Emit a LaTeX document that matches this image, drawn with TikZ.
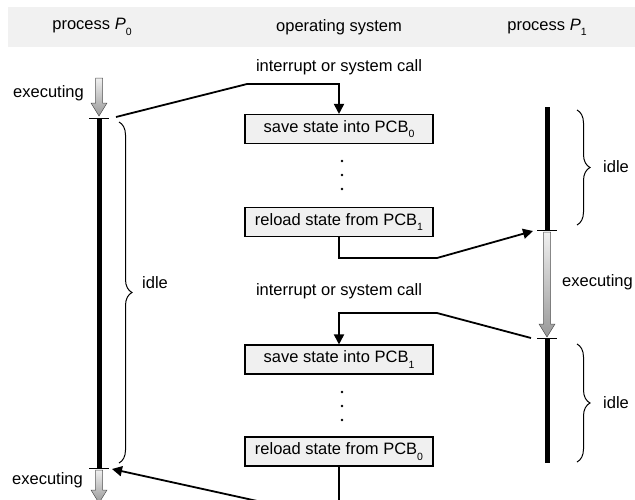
\documentclass[tikz,border=0pt]{standalone}
\usepackage{fontspec}
\setmainfont{Liberation Sans}
\usetikzlibrary{arrows.meta,decorations.pathreplacing,calc}
\newcommand{\sbs}[1]{\raisebox{-0.32em}{\fontsize{10.5}{10.5}\selectfont #1}}
\newcommand{\GrayArrow}[3]{%
  \shade[top color=gray!12, bottom color=gray!80, draw=gray!65!black, line width=0.5pt]
   (#1-3.5,#2) -- (#1+3.5,#2) -- (#1+3.5,#3-13) -- (#1+8,#3-13) -- (#1,#3)
   -- (#1-8,#3-13) -- (#1-3.5,#3-13) -- cycle;}
\begin{document}
\begin{tikzpicture}[x=1pt,y=-1pt,
  every node/.style={font=\fontsize{16.5}{18}\selectfont, inner sep=0pt},
  box/.style={draw=black, line width=1.1pt, fill=gray!12, minimum width=188pt, minimum height=29pt},
  conn/.style={line width=1.8pt, -{Triangle[length=10pt,width=10pt]}},
  timeline/.style={line width=5pt},
  tick/.style={line width=1pt},
  lbl/.style={anchor=west},
  bracestyle/.style={line width=1pt, decorate, decoration={brace, amplitude=13pt}}]
\useasboundingbox (0,0) rectangle (635,499);
\clip (0,0) rectangle (635,499);
\fill[gray!11] (8,7) rectangle (635,47);
% header
\node (h0) at (92,27) {process \textit{P}\sbs{0}};
\node (hos) at (339,27) {operating system};
\node (h1) at (547,27) {process \textit{P}\sbs{1}};
% OS boxes
\node[box] (b1) at (339,129) {save state into PCB\sbs{0}};
\node[box] (b2) at (339,222) {reload state from PCB\sbs{1}};
\node[box] (b3) at (339,359.5) {save state into PCB\sbs{1}};
\node[box] (b4) at (339,451.5) {reload state from PCB\sbs{0}};
\foreach \y in {161,175,189,392,406,420} \fill (342,\y) circle (1.4);
\node (int1) at (339,67) {interrupt or system call};
\node (int2) at (339,291) {interrupt or system call};
% process P0 timeline
\GrayArrow{99}{78}{116}
\draw[tick] (89,118) -- (109,118);
\draw[timeline] (99,118) -- (99,468);
\draw[tick] (89,468) -- (109,468);
\GrayArrow{99}{470}{503}
\node[anchor=east] (ex0) at (84,93) {executing};
\node[anchor=east] (ex0b) at (83,480) {executing};
\draw[bracestyle] (119,122) -- (119,463);
\node[lbl] (idle0) at (142,283) {idle};
% process P1 timeline
\draw[timeline] (547,107) -- (547,230);
\draw[tick] (537,230) -- (557,230);
\GrayArrow{547}{232}{337}
\draw[tick] (537,338) -- (557,338);
\draw[timeline] (547,338) -- (547,463);
\node[lbl] (ex1) at (562,282) {executing};
\draw[bracestyle] (577,110) -- (577,225);
\node[lbl] (idle1) at (603,167) {idle};
\draw[bracestyle] (577,344) -- (577,462);
\node[lbl] (idle2) at (603,403) {idle};
% connection points
\coordinate (p0a) at (116,117);
\coordinate (p1a) at (533,231);
\coordinate (p1b) at (531,338);
\coordinate (p0b) at (112,469);
% connectors
\draw[conn] (p0a) -- (247,84) -| (b1.north);
\draw[conn] (b2.south) |- (437,258) -- (p1a);
\draw[conn] (p1b) -- (437,313) -| (b3.north);
\draw[conn] (b4.south) -- (339,519) -- (p0b);
\end{tikzpicture}
\end{document}
